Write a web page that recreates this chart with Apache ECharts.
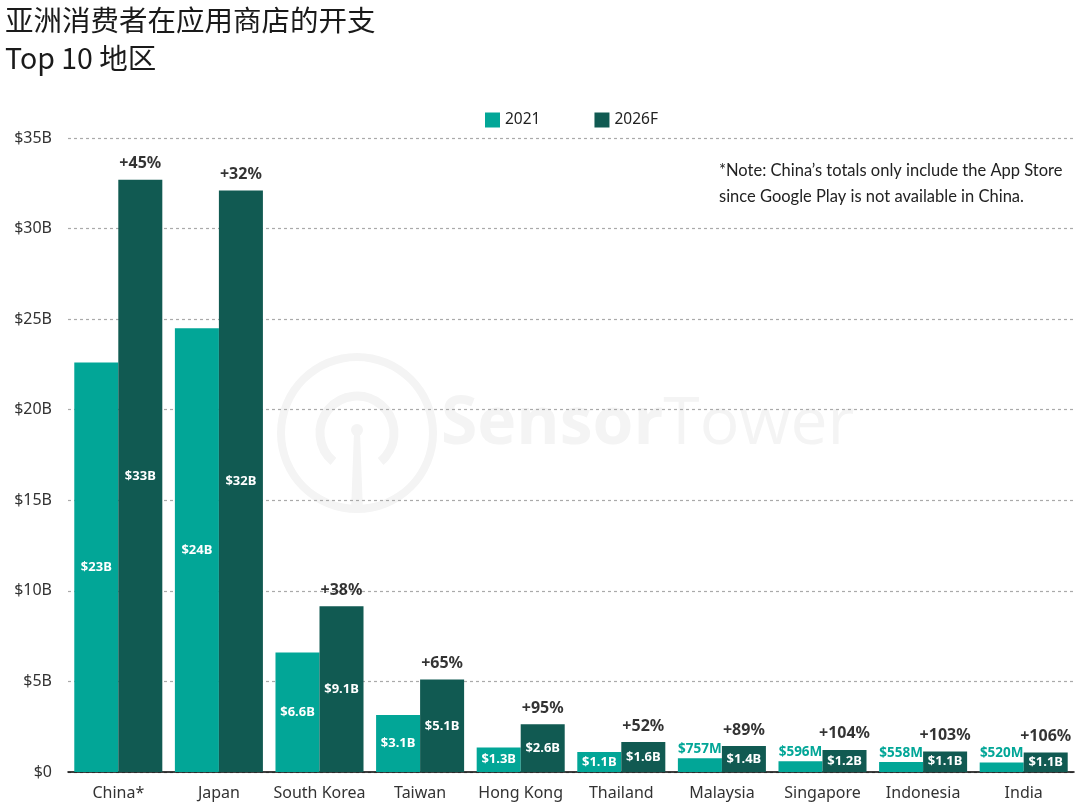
<!DOCTYPE html>
<html>
<head>
<meta charset="utf-8">
<script src="https://cdn.jsdelivr.net/npm/echarts@6/dist/echarts.min.js"></script>
<style>
html,body{margin:0;padding:0;background:#fff;}
#chart{width:1079px;height:804px;}
</style>
</head>
<body>
<div id="chart"></div>
<script>
var categories = ['China*','Japan','South Korea','Taiwan','Hong Kong','Thailand','Malaysia','Singapore','Indonesia','India'];
var values2021 = [22.6, 24.5, 6.6, 3.15, 1.35, 1.1, 0.757, 0.596, 0.558, 0.520];
var values2026 = [32.7, 32.1, 9.15, 5.1, 2.63, 1.65, 1.43, 1.22, 1.13, 1.08];
var labels2021 = ['$23B','$24B','$6.6B','$3.1B','$1.3B','$1.1B','$757M','$596M','$558M','$520M'];
var labels2026 = ['$33B','$32B','$9.1B','$5.1B','$2.6B','$1.6B','$1.4B','$1.2B','$1.1B','$1.1B'];
var growth = ['+45%','+32%','+38%','+65%','+95%','+52%','+89%','+104%','+103%','+106%'];
var yTicks = ['$0','$5B','$10B','$15B','$20B','$25B','$30B','$35B'];

var C1 = '#02a697';
var C2 = '#115a52';
var FONT = '"Noto Sans", "Open Sans", sans-serif';
var NOTEFONT = 'Lato, "Noto Sans", sans-serif';

var chart = echarts.init(document.getElementById('chart'));

var d2021 = values2021.map(function(v, i){
  var small = v < 1;
  return {
    value: v,
    label: small ? {position:'top', distance:2, color:C1, fontWeight:'bold', fontSize:13.5} :
                   {position:'inside', color:'#fff', fontWeight:'bold', fontSize:13}
  };
});

chart.setOption({
  animation: false,
  textStyle: {fontFamily: FONT},
  title: [{
    text: '亚洲消费者在应用商店的开支\nTop 10 地区',
    left: 0, top: -4,
    textStyle: {fontFamily: '"Noto Sans CJK SC", "Noto Sans", sans-serif', fontSize: 28.5, fontWeight: 'normal', color: '#1a1a1a', lineHeight: 38}
  }],
  graphic: [
    {type:'ring', shape:{cx:357, cy:433, r:80, r0:72}, style:{fill:'#f4f4f4'}, z:-10, silent:true},
    {type:'arc', shape:{cx:357, cy:433, r:37, startAngle:Math.PI*0.72, endAngle:Math.PI*2.28, clockwise:true}, style:{stroke:'#f4f4f4', lineWidth:9, fill:null}, z:-10, silent:true},
    {type:'circle', shape:{cx:357, cy:430, r:6}, style:{fill:'#f4f4f4'}, z:-10, silent:true},
    {type:'polygon', shape:{points:[[354,432],[360,432],[363,512],[351,512]]}, style:{fill:'#f4f4f4'}, z:-10, silent:true},
    {type:'text', left:441, top:392, z:-10, silent:true,
      style:{text:'{a|Sensor}{b|Tower}', rich:{a:{fontSize:66, fontWeight:'bold', fill:'#f4f4f4', fontFamily:'"Open Sans", sans-serif'}, b:{fontSize:66, fontWeight:'normal', fill:'#f4f4f4', fontFamily:'"Open Sans", sans-serif'}}}},
    {type:'text', left:719, top:158, z:10,
      style:{text:'*Note: China\u2019s totals only include the App Store\nsince Google Play is not available in China.', fontSize:16.5, lineHeight:26, fill:'#222', fontFamily: NOTEFONT}}
  ],
  legend: {
    top: 107, left: 480,
    itemWidth: 15, itemHeight: 15, itemGap: 54,
    icon: 'rect',
    textStyle: {fontSize: 15.5, color: '#222', fontFamily: FONT},
    data: ['2021','2026F']
  },
  grid: {left: 68, right: 5, top: 138, bottom: 32},
  xAxis: {
    type: 'category',
    data: categories,
    axisLine: {lineStyle: {color: '#000', width: 1.5}},
    axisTick: {show: false},
    axisLabel: {interval: 0, fontSize: 16, color: '#333', margin: 13, fontFamily: FONT}
  },
  yAxis: {
    type: 'value',
    min: 0, max: 35, interval: 5,
    axisLine: {show: false},
    axisTick: {show: false},
    splitLine: {lineStyle: {color: '#aaa', type: [3, 3], width: 1.2}},
    axisLabel: {fontSize: 16, color: '#333', margin: 16, fontFamily: FONT,
      formatter: function(v){ return yTicks[Math.round(v/5)]; }}
  },
  series: [
    {
      name: '2021', type: 'bar',
      barGap: '0%', barCategoryGap: '12.5%',
      itemStyle: {color: C1},
      data: d2021,
      label: {show: true, fontFamily: FONT, formatter: function(p){ return labels2021[p.dataIndex]; }}
    },
    {
      name: '2026F', type: 'bar',
      barGap: '0%', barCategoryGap: '12.5%',
      itemStyle: {color: C2},
      data: values2026,
      label: {show: true, position: 'inside', color: '#fff', fontWeight: 'bold', fontSize: 13, fontFamily: FONT,
        formatter: function(p){ return labels2026[p.dataIndex]; }}
    },
    {
      name: 'growth', type: 'scatter',
      symbolSize: 0,
      data: values2026,
      silent: true,
      z: 5,
      label: {show: true, position: 'top', distance: 8, offset: [22, 0], color: '#000', fontWeight: 'bold', fontSize: 16, fontFamily: FONT,
        formatter: function(p){ return growth[p.dataIndex]; }}
    }
  ]
});
</script>
</body>
</html>
